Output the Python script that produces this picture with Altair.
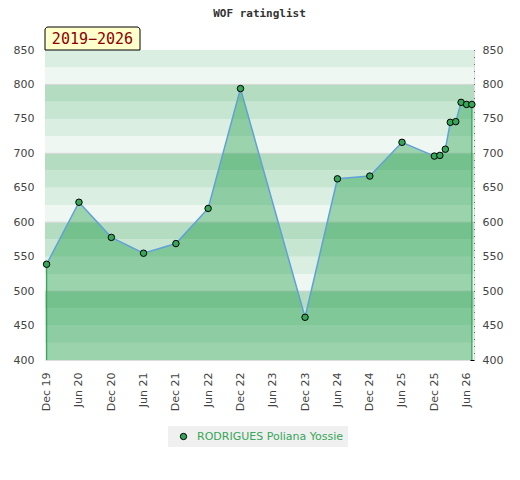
import altair as alt
import pandas as pd

# ---- data ----
dates = ["2019-12-01", "2020-06-01", "2020-12-01", "2021-06-01", "2021-12-01",
         "2022-06-01", "2022-12-01", "2023-12-01", "2024-06-01", "2024-12-01",
         "2025-06-01", "2025-12-01", "2026-01-01", "2026-02-01", "2026-03-01",
         "2026-04-01", "2026-05-01", "2026-06-01", "2026-07-01"]
ratings = [539, 629, 578, 555, 569, 620, 794, 462, 663, 667,
           716, 696, 697, 706, 745, 746, 774, 771, 771]
player = "RODRIGUES Poliana Yossie"
title_text = "WOF ratinglist"
badge_text = "2019\u22122026"

x_tick_dates = ["2019-12-01", "2020-06-01", "2020-12-01", "2021-06-01", "2021-12-01",
                "2022-06-01", "2022-12-01", "2023-06-01", "2023-12-01", "2024-06-01",
                "2024-12-01", "2025-06-01", "2025-12-01", "2026-06-01"]
y_major = list(range(400, 851, 50))
y_minor = list(range(400, 851, 10))
band_lo = list(range(400, 850, 25))
grid_vals = [500, 600, 700, 800]
band_palette = ["#eef7f1", "#dbeee2", "#c7e6d1", "#b3dcc0"]

df = pd.DataFrame({"date": dates, "rating": ratings, "player": player})
edges = df.iloc[[0, -1]].assign(base=400)
bands = pd.DataFrame({
    "lo": band_lo,
    "hi": [b + 25 for b in band_lo],
    "fill": [band_palette[((b - 400) // 25) % 4] for b in band_lo],
})
grid = pd.DataFrame({"v": grid_vals})

W, H = 429, 310
GREEN = "#37a65a"
LABEL = "#444444"


def dt(s):
    y, m, d = (int(p) for p in s.split("-"))
    return alt.DateTime(year=y, month=m, date=d, utc=True)


xscale = alt.Scale(type="utc", domain=[dt("2019-11-22"), dt("2026-07-13")])
xaxis = alt.Axis(values=[dt(s) for s in x_tick_dates],
                 labelExpr="utcFormat(datum.value, '%b %y')",
                 labelAngle=270, labelFlush=False, ticks=False, domain=False, grid=False,
                 labelPadding=12, labelFont="DejaVu Sans", labelFontSize=11,
                 labelColor=LABEL, title=None, labelOverlap=False)
X = alt.X("date:T", scale=xscale, axis=xaxis)

yscale = alt.Scale(domain=[400, 850], nice=False, zero=False)
yleft = alt.Axis(values=y_major, orient="left", ticks=False, domain=False, grid=False,
                 labelPadding=11, labelFont="DejaVu Sans", labelFontSize=11,
                 labelOverlap=False, labelColor=LABEL, title=None)
yright = alt.Axis(values=y_minor, orient="right", ticks=True, tickSize=4, tickColor="#000000",
                  tickWidth=1, tickOpacity=1, offset=-4, domain=False, grid=False,
                  labelPadding=8,
                  labelExpr="datum.value % 50 == 0 ? datum.label : ''",
                  labelOverlap=False, labelBound=False, labelFont="DejaVu Sans",
                  labelFontSize=11, labelColor=LABEL, title=None)

band_layer = alt.Chart(bands).mark_rect().encode(
    y=alt.Y("lo:Q", scale=yscale, axis=yleft),
    y2="hi:Q",
    color=alt.Color("fill:N", scale=None),
)
grid_layer = alt.Chart(grid).mark_rule(color="#d6d6d6", strokeWidth=1).encode(
    y=alt.Y("v:Q", scale=yscale, axis=yleft),
)
left = alt.layer(band_layer, grid_layer)

area = alt.Chart(df).mark_area(color="#00902f", opacity=0.35).encode(
    x=X,
    y=alt.Y("rating:Q", scale=yscale, axis=yright),
    y2=alt.datum(400),
)
edge_rules = alt.Chart(edges).mark_rule(color=GREEN, strokeWidth=1.3).encode(
    x=X,
    y=alt.Y("rating:Q", scale=yscale, axis=yright),
    y2="base:Q",
)
line = alt.Chart(df).mark_line(color="#62a0d8", strokeWidth=1.5).encode(
    x=X,
    y=alt.Y("rating:Q", scale=yscale, axis=yright),
)
points = alt.Chart(df).mark_point(filled=True, size=42, stroke="#000000", strokeWidth=1,
                                  opacity=1).encode(
    x=X,
    y=alt.Y("rating:Q", scale=yscale, axis=yright),
    color=alt.Color("player:N", scale=alt.Scale(range=[GREEN]),
                    legend=alt.Legend(orient="none", legendX=123, legendY=376, title=None,
                                      fillColor="#f0f0f0", padding=5,
                                      labelColor=GREEN, labelFont="DejaVu Sans",
                                      labelFontSize=11, labelOffset=8, symbolOffset=5,
                                      symbolType="circle",
                                      symbolSize=40, symbolStrokeColor="#000000",
                                      symbolFillColor="#2f9550",
                                      symbolStrokeWidth=1, symbolOpacity=1)),
)
right = alt.layer(area, edge_rules, line, points)

title_mark = alt.Chart(df.head(1)).mark_text(
    text=title_text, font="DejaVu Sans Mono", fontSize=11, fontWeight="bold",
    color="#333333", align="center", baseline="alphabetic",
).encode(x=alt.value(W / 2), y=alt.value(-33))
badge_box = alt.Chart(df.head(1)).mark_rect(fill="#ffffcc", stroke="#000000", strokeWidth=1,
                                            cornerRadiusTopLeft=3, cornerRadiusTopRight=3).encode(
    x=alt.value(0), x2=alt.value(95), y=alt.value(-23), y2=alt.value(0),
)
badge_label = alt.Chart(df.head(1)).mark_text(
    text=badge_text, font="DejaVu Sans Mono", fontSize=15, color="#8b0000",
    align="center", baseline="middle",
).encode(x=alt.value(47.5), y=alt.value(-11))

chart = alt.layer(left, right, title_mark, badge_box, badge_label).resolve_scale(
    y="independent"
).properties(
    width=W, height=H,
    autosize=alt.AutoSizeParams(type="none"),
    padding={"left": 37, "top": 42, "right": 38, "bottom": 100},
).configure_view(stroke="#d8d8d8", strokeWidth=1).configure(background="#ffffff")

chart.save("out.html", embed_options={"renderer": "svg", "actions": False})
